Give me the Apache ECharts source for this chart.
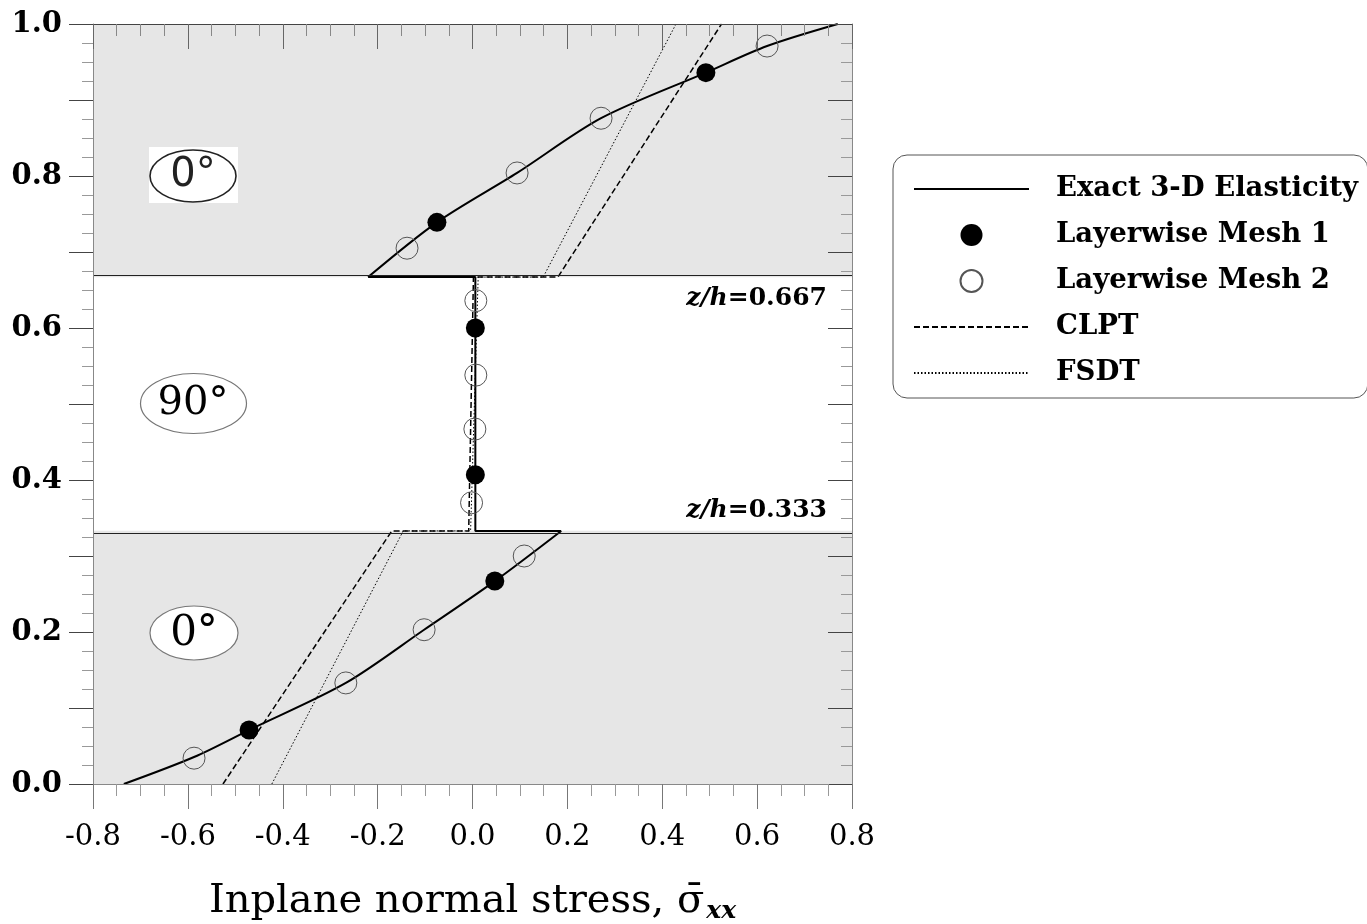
<!DOCTYPE html>
<html lang="en">
  <head>
    <meta charset="UTF-8" />
    <title>Inplane normal stress through the thickness</title>
    <script src="https://cdn.jsdelivr.net/npm/echarts@6/dist/echarts.min.js"></script>
    <style>
      body { margin: 0; background: #fff; }
    </style>
  </head>
  <body>
    <div id="main" style="width: 1367px; height: 924px"></div>
    <script type="text/javascript">
      // values: [sigma_xx, z/h]
      const exactLower = [[-0.735, 0], [-0.587, 0.0355], [-0.471, 0.071], [-0.267, 0.133], [-0.102, 0.203], [0.047, 0.267], [0.187, 0.333]];
      const exactMiddle = [[0.187, 0.333], [0.006, 0.333], [0.006, 0.667], [-0.22, 0.667]];
      const exactUpper = [[-0.22, 0.667], [-0.075, 0.739], [0.094, 0.804], [0.271, 0.876], [0.492, 0.936], [0.621, 0.971], [0.77, 1.0]];
      const mesh1 = [[-0.471, 0.071], [0.047, 0.267], [0.006, 0.407], [0.006, 0.6], [-0.075, 0.739], [0.492, 0.936]];
      const mesh2 = [[-0.587, 0.034], [-0.267, 0.133], [-0.102, 0.203], [0.109, 0.3], [-0.002, 0.37], [0.005, 0.467], [0.007, 0.538], [0.007, 0.636], [-0.138, 0.705], [0.094, 0.804], [0.271, 0.876], [0.621, 0.971]];
      const clpt = [[-0.526, 0], [-0.17, 0.333], [-0.008, 0.333], [0.002, 0.667], [0.18, 0.667], [0.525, 1.0]];
      const fsdt = [[-0.423, 0], [-0.146, 0.333], [-0.004, 0.333], [0.012, 0.667], [0.149, 0.667], [0.429, 1.0]];
      const zeroPlies = [[0, 1 / 3], [2 / 3, 1]];
      const interfaces = [1 / 3, 2 / 3];
      const legendNames = ["Exact 3-D Elasticity", "Layerwise Mesh 1", "Layerwise Mesh 2", "CLPT", "FSDT"];

      const serif = "DejaVu Serif";
      const oneDec = (v) => (Math.abs(v) < 1e-9 ? 0 : v).toFixed(1);

      const exactLine = { color: "#000", width: 2 };
      // line entries in the legend: hide the marker ECharts puts in the middle
      const noMarker = { color: "rgba(0,0,0,0)", opacity: 0, borderWidth: 0 };

      let options = {
        animation: false,
        grid: { left: 93, right: 515, top: 24, bottom: 140, outerBoundsMode: "none" },
        xAxis: [
          {
            type: "value",
            min: -0.8,
            max: 0.8,
            interval: 0.2,
            position: "bottom",
            z: 5,
            axisLine: { onZero: false, lineStyle: { color: "#888", width: 1 } },
            axisTick: { length: 25, lineStyle: { color: "#777" } },
            minorTick: { show: true, splitNumber: 4, length: 12, lineStyle: { color: "#999" } },
            splitLine: { show: false },
            axisLabel: { fontFamily: serif, fontSize: 29, color: "#000", margin: 39, formatter: oneDec },
            name: "{t|Inplane normal stress, σ̄}{s|xx}",
            nameLocation: "middle",
            nameGap: 95,
            nameTextStyle: {
              color: "#000",
              rich: {
                t: { fontFamily: serif, fontSize: 40, color: "#000" },
                s: { fontFamily: serif, fontSize: 25, fontStyle: "italic", fontWeight: "bold", color: "#000", padding: [20, 0, 0, 2] },
              },
            },
          },
          {
            type: "value",
            min: -0.8,
            max: 0.8,
            interval: 0.2,
            position: "top",
            z: 5,
            axisLine: { onZero: false, lineStyle: { color: "#444", width: 1 } },
            axisTick: { inside: true, length: 25, lineStyle: { color: "#666" } },
            minorTick: { show: true, splitNumber: 4, length: 12, lineStyle: { color: "#888" } },
            splitLine: { show: false },
            axisLabel: { show: false },
          },
        ],
        yAxis: [
          {
            type: "value",
            min: 0,
            max: 1,
            interval: 0.1,
            position: "left",
            z: 5,
            axisLine: { onZero: false, lineStyle: { color: "#888", width: 1 } },
            axisTick: { length: 24, lineStyle: { color: "#444" } },
            minorTick: { show: true, splitNumber: 4, length: 11, lineStyle: { color: "#999" } },
            splitLine: { show: false },
            axisLabel: {
              fontFamily: serif,
              fontWeight: "bold",
              fontSize: 29,
              color: "#000",
              margin: 31,
              formatter: (v) => (Math.round(v * 10) % 2 === 0 ? oneDec(v) : ""),
            },
          },
          {
            type: "value",
            min: 0,
            max: 1,
            interval: 0.1,
            position: "right",
            z: 5,
            axisLine: { onZero: false, lineStyle: { color: "#888", width: 1 } },
            axisTick: { inside: true, length: 24, lineStyle: { color: "#444" } },
            minorTick: { show: true, splitNumber: 4, length: 11, lineStyle: { color: "#999" } },
            splitLine: { show: false },
            axisLabel: { show: false },
          },
        ],
        legend: {
          data: [
            { name: legendNames[0], itemStyle: noMarker },
            { name: legendNames[1] },
            { name: legendNames[2] },
            { name: legendNames[3], itemStyle: noMarker },
            { name: legendNames[4], itemStyle: noMarker },
          ],
          orient: "vertical",
          left: 893,
          top: 155,
          itemWidth: 115,
          itemHeight: 22,
          itemGap: 18,
          padding: [20, 10, 11, 20],
          borderColor: "#555",
          borderWidth: 1,
          borderRadius: 14,
          textStyle: { fontFamily: serif, fontWeight: "bold", fontSize: 27.5, color: "#000", padding: [0, 0, 0, 22] },
        },
        series: [
          {
            name: "plies",
            type: "line",
            data: [],
            z: 1,
            markArea: {
              silent: true,
              itemStyle: { color: "#e6e6e6" },
              data: zeroPlies.map((p) => [{ yAxis: p[0] }, { yAxis: p[1] }]),
            },
            markLine: {
              silent: true,
              symbol: "none",
              label: { show: false },
              lineStyle: { color: "#222", width: 1.2, type: "solid" },
              data: interfaces.map((v) => ({ yAxis: v })),
            },
          },
          { name: legendNames[0], type: "line", data: exactLower, smooth: 0.3, symbol: "none", lineStyle: exactLine, itemStyle: { color: "#000" }, z: 3 },
          { name: legendNames[0], type: "line", data: exactMiddle, symbol: "none", lineStyle: exactLine, itemStyle: { color: "#000" }, z: 3 },
          { name: legendNames[0], type: "line", data: exactUpper, smooth: 0.3, symbol: "none", lineStyle: exactLine, itemStyle: { color: "#000" }, z: 3 },
          {
            name: legendNames[3],
            type: "line",
            data: clpt,
            symbol: "none",
            lineStyle: { color: "#000", width: 1.5, type: [6, 3] },
            itemStyle: { color: "#000" },
            z: 2,
          },
          {
            name: legendNames[4],
            type: "line",
            data: fsdt,
            symbol: "none",
            lineStyle: { color: "#000", width: 1, type: [1.5, 2] },
            itemStyle: { color: "#000" },
            z: 2,
          },
          {
            name: legendNames[1],
            type: "scatter",
            data: mesh1,
            symbol: "circle",
            symbolSize: 19,
            itemStyle: { color: "#000", opacity: 1 },
            z: 4,
          },
          {
            name: legendNames[2],
            type: "scatter",
            data: mesh2,
            symbol: "circle",
            symbolSize: 22,
            itemStyle: { color: "rgba(0,0,0,0)", borderColor: "#555", borderWidth: 1, opacity: 1 },
            z: 4,
          },
        ],
        graphic: [
          { type: "rect", shape: { x: 149, y: 147, width: 89, height: 56 }, style: { fill: "#fff" }, z: 10 },
          { type: "ellipse", shape: { cx: 193, cy: 176, rx: 43, ry: 26 }, style: { fill: "#fff", stroke: "#222", lineWidth: 1.6 }, z: 11 },
          { type: "text", x: 193, y: 176, style: { text: "0°", font: '40px "DejaVu Sans"', fill: "#222", align: "center", verticalAlign: "middle" }, z: 12 },
          { type: "ellipse", shape: { cx: 193.5, cy: 403.5, rx: 53, ry: 30 }, style: { fill: "#fff", stroke: "#777", lineWidth: 1.2 }, z: 11 },
          { type: "text", x: 193, y: 404, style: { text: "90°", font: '40px "DejaVu Serif"', fill: "#000", align: "center", verticalAlign: "middle" }, z: 12 },
          { type: "ellipse", shape: { cx: 194, cy: 633, rx: 44, ry: 27 }, style: { fill: "#fff", stroke: "#777", lineWidth: 1.2 }, z: 11 },
          { type: "text", x: 194, y: 634, style: { text: "0°", font: '42px "DejaVu Serif"', fill: "#000", align: "center", verticalAlign: "middle" }, z: 12 },
          {
            type: "text",
            x: 827,
            y: 298,
            style: {
              text: "{i|z/h}{n|=0.667}",
              align: "right",
              verticalAlign: "middle",
              rich: {
                i: { fontFamily: serif, fontStyle: "italic", fontWeight: "bold", fontSize: 25, fill: "#000" },
                n: { fontFamily: serif, fontWeight: "bold", fontSize: 25, fill: "#000" },
              },
            },
            z: 12,
          },
          {
            type: "text",
            x: 827,
            y: 510,
            style: {
              text: "{i|z/h}{n|=0.333}",
              align: "right",
              verticalAlign: "middle",
              rich: {
                i: { fontFamily: serif, fontStyle: "italic", fontWeight: "bold", fontSize: 25, fill: "#000" },
                n: { fontFamily: serif, fontWeight: "bold", fontSize: 25, fill: "#000" },
              },
            },
            z: 12,
          },
        ],
      };

      let myChart = echarts.init(document.getElementById("main"));
      myChart.setOption(options);
    </script>
  </body>
</html>
